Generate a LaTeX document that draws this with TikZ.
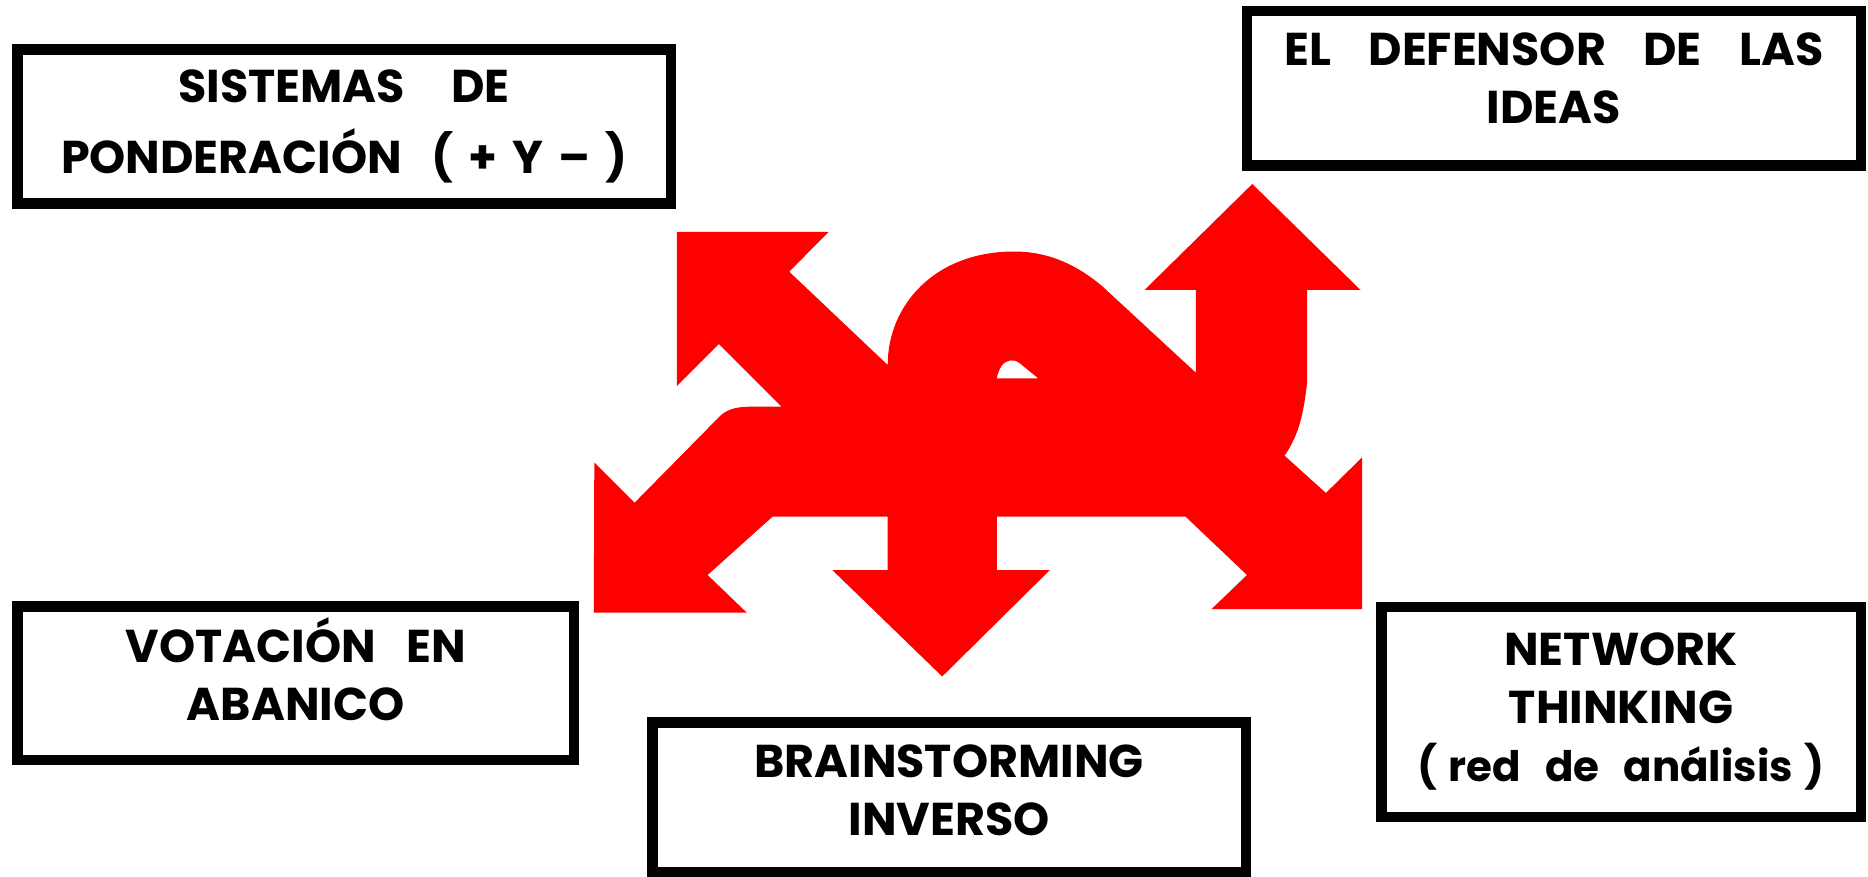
\documentclass[tikz,border=0pt]{standalone}
\usepackage{fontspec}
\setmainfont{Poppins}
\newcommand{\spreadline}[2]{\makebox[#1pt][s]{#2}}
\newcommand{\lowpad}[1]{\rule[-#1pt]{0pt}{1pt}}
\newcommand{\gapw}[1]{\hspace{0pt plus #1fill}}
\begin{document}
\begin{tikzpicture}[x=1pt,y=-1pt,
  panel/.style={draw=black, line width=10.5pt, fill=white, inner sep=0pt,
    align=center, font=\fontsize{46}{58}\selectfont\bfseries},
  burst/.style={fill=red, draw=none, even odd rule}
]
\useasboundingbox (0,0) rectangle (1868,877);

% five-way red arrow with its small opening near the middle
\path[burst]
  (676.9,232) -- (828.5,232) -- (789.2,271.7) -- (887.7,365)
  .. controls (887.7,305) and (935,251.5) .. (1014,251.5)
  .. controls (1050,251.5) and (1078,266) .. (1102,286)
  -- (1195.8,372.7) -- (1195.8,290) -- (1144.5,290) -- (1252.3,184)
  -- (1360.5,290) -- (1307,290) -- (1307,383)
  .. controls (1303,420) and (1297,437) .. (1284.6,455.7)
  -- (1325.9,493) -- (1362,457.4) -- (1362,609) -- (1211.6,609)
  -- (1247,575) -- (1185.6,516.7)
  -- (996.8,516.7) -- (996.8,570) -- (1049.9,570) -- (942.2,676.5)
  -- (832.3,570) -- (887.7,570) -- (887.7,516.7)
  -- (772.5,516.7) -- (707.6,575) -- (746.8,612.7) -- (593.8,612.7)
  -- (594.3,462.5) -- (634.6,502.7) -- (717.8,418.3)
  .. controls (725,410) and (735,406.7) .. (750,406.7) -- (781.5,406.7)
  -- (718.8,344) -- (676.9,386) -- cycle
  (996.8,378.3) -- (1038.2,378.3) -- (1019.8,363.3)
  .. controls (1014,358.5) and (1006,359.5) .. (1001.5,366)
  .. controls (999,370) and (997.5,374) .. (996.8,378.3) -- cycle;

% technique panels
\node[panel, minimum width=653.5pt, minimum height=153.9pt] (pond) at (344,126.5)
  {\spreadline{331}{SISTEMAS DE}\\[13.5pt]\spreadline{566}{PONDERACIÓN \ ( + Y – )}};
\node[panel, minimum width=613.8pt, minimum height=154.5pt] (defensor) at (1553.85,88.2)
  {\spreadline{539}{EL DEFENSOR DE LAS}\\IDEAS\lowpad{20}};
\node[panel, minimum width=556.8pt, minimum height=153.8pt] (abanico) at (295.65,683.15)
  {\spreadline{340}{VOTACIÓN EN}\\ABANICO\lowpad{28}};
\node[panel, minimum width=593.5pt, minimum height=149.5pt] (inverso) at (949,797)
  {BRAINSTORMING\\INVERSO\lowpad{14}};
\node[panel, minimum width=479.5pt, minimum height=209.9pt] (network) at (1621,711.8)
  {NETWORK\\THINKING\\\makebox[408pt]{\fontsize{42}{58}\selectfont
    (\gapw{1}red\gapw{2}de\gapw{2}análisis\gapw{1})}};
\end{tikzpicture}
\end{document}
